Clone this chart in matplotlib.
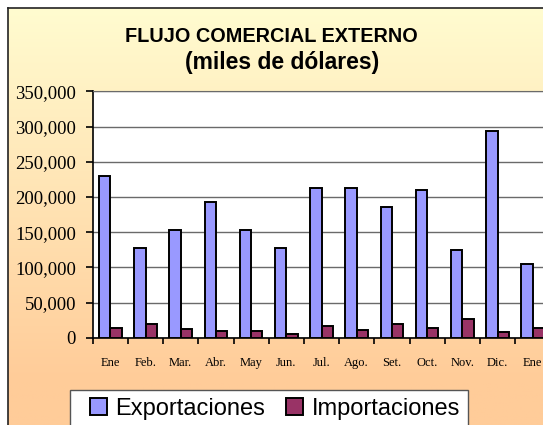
import numpy as np
import matplotlib
matplotlib.use("Agg")
import matplotlib.pyplot as plt
from matplotlib.patches import Rectangle, Patch
from matplotlib.ticker import FuncFormatter, FixedLocator

months = ['Ene', 'Feb.', 'Mar.', 'Abr.', 'May', 'Jun.', 'Jul.', 'Ago.',
          'Set.', 'Oct.', 'Nov.', 'Dic.', 'Ene']
exportaciones = [230000, 128000, 153000, 193000, 153000, 128000, 213000,
                 213000, 185000, 210000, 125000, 293000, 105000]
importaciones = [14000, 20000, 12000, 9000, 9000, 5000, 17000, 11000,
                 20000, 14000, 26000, 8500, 14000]
yticks = [0, 50000, 100000, 150000, 200000, 250000, 300000, 350000]

W, H = 543, 425
fig = plt.figure(figsize=(W / 100, H / 100), dpi=100)
fig.patch.set_facecolor('white')

def fx(px):
    return px / W

def fy(py):
    return 1 - py / H

# background gradient (chart area)
bg = fig.add_axes([fx(8), 0, 1 - fx(8), fy(8)])
n = 400
t = np.clip(np.linspace(0, 1, n) * 1.12, 0, 1)[:, None]
top = np.array([255, 252, 208]) / 255
bot = np.array([255, 204, 153]) / 255
grad = top[None, None, :] * (1 - t[..., None]) + bot[None, None, :] * t[..., None]
grad = np.repeat(grad, 2, axis=1)
bg.imshow(grad, aspect='auto', extent=[0, 1, 0, 1], origin='upper')
bg.set_xlim(0, 1)
bg.set_ylim(0, 1)
bg.set_xticks([])
bg.set_yticks([])
for s in ['right', 'bottom']:
    bg.spines[s].set_visible(False)
for s in ['left', 'top']:
    bg.spines[s].set_color('#222222')
    bg.spines[s].set_linewidth(1.2)

# main axes
left_px, right_px, top_px, bot_px = 92.7, 550.3, 91.3, 337.7
ax = fig.add_axes([fx(left_px), fy(bot_px), (right_px - left_px) / W,
                   (bot_px - top_px) / H])
ax.set_facecolor('white')
x = np.arange(len(months))
bw = 0.32
ax.bar(x - 0.16, exportaciones, bw, color='#9999FF', edgecolor='black',
       linewidth=1.4, zorder=3)
ax.bar(x + 0.16, importaciones, bw, color='#993366', edgecolor='black',
       linewidth=1.4, zorder=3)
ax.set_xlim(-0.5, len(months) - 0.5)
ax.set_ylim(0, 350000)
ax.yaxis.set_major_locator(FixedLocator(yticks))
ax.yaxis.set_major_formatter(FuncFormatter(lambda v, p: f"{int(v):,}"))
ax.grid(axis='y', color='#6a6a6a', linewidth=1.0, zorder=0)
ax.set_axisbelow(True)
ax.set_xticks(x)
ax.set_xticklabels(months, fontsize=9, family='Liberation Serif')
ax.set_xticks(np.arange(len(months) + 1) - 0.5, minor=True)
ax.tick_params(axis='x', which='major', length=0, pad=14)
ax.tick_params(axis='x', which='minor', length=4, width=1.2, direction='out')
ax.tick_params(axis='y', length=5, width=1.2, pad=7, labelsize=13.5)
for lab in ax.get_yticklabels():
    lab.set_family('Liberation Serif')
ax.spines['right'].set_visible(False)
ax.spines['top'].set_color('#6a6a6a')
ax.spines['left'].set_linewidth(1.2)
ax.spines['bottom'].set_linewidth(1.2)

# title
fig.text(fx(271), fy(37), 'FLUJO COMERCIAL EXTERNO', ha='center', va='center',
         fontsize=14.3, fontweight='bold', family='Liberation Sans')
fig.text(fx(282), fy(62), '(miles de dólares)', ha='center', va='center',
         fontsize=16.5, fontweight='bold', family='Liberation Sans')

# legend box
fig.patches.append(Rectangle((fx(70), fy(440)), fx(468) - fx(70), fy(390) - fy(440),
                             transform=fig.transFigure, facecolor='white',
                             edgecolor='#555555', linewidth=1.0, zorder=5))
handles = [Patch(facecolor='#9999FF', edgecolor='black', linewidth=1.4),
           Patch(facecolor='#993366', edgecolor='black', linewidth=1.4)]
leg = fig.legend(handles, ['Exportaciones', 'Importaciones'], loc='center left',
                 bbox_to_anchor=(fx(90), fy(409)), ncol=2, frameon=False,
                 prop={'family': 'Liberation Sans', 'size': 17},
                 handlelength=0.72, handleheight=0.72, handletextpad=0.35,
                 columnspacing=0.9, borderpad=0.0, borderaxespad=0.0)
leg.set_zorder(6)

fig.savefig('out.png', dpi=100)
